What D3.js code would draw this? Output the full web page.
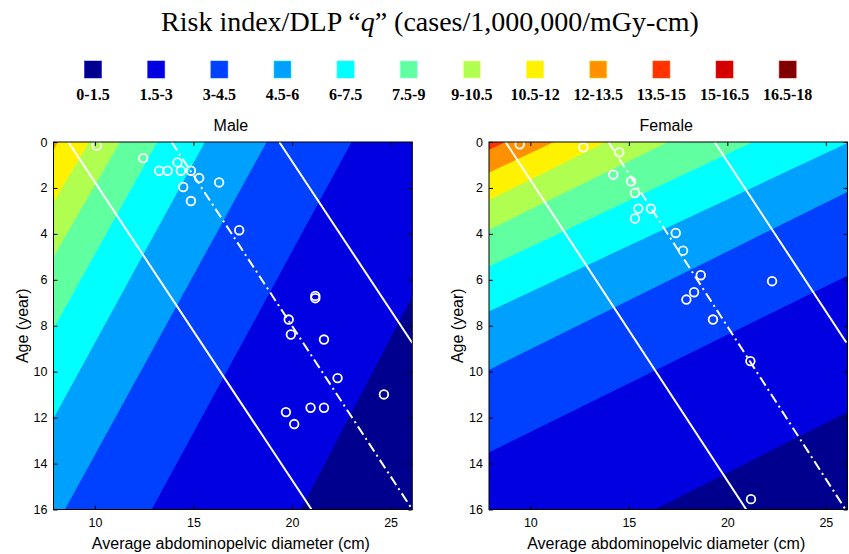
<!doctype html>
<html>
<head>
  <meta charset="utf-8">
  <title>Risk index/DLP q</title>
  <style>
    body { margin: 0; background: #fff; }
    .tick text { font-family: "Liberation Sans", Arial, sans-serif; font-size: 12.5px; fill: #000; }
    .tick line { stroke: #000; }
  </style>
</head>
<body>
<div class="chart"></div>
<script src="https://cdn.jsdelivr.net/npm/d3@7"></script>
<script>

// legend bands (12 bands of 1.5)
const bandLabels = ["0-1.5", "1.5-3", "3-4.5", "4.5-6", "6-7.5", "7.5-9",
                    "9-10.5", "10.5-12", "12-13.5", "13.5-15", "15-16.5", "16.5-18"];
const bandColors = ["#00008f", "#0000e0", "#0040ff", "#00a0ff", "#00ffff", "#60ffa0",
                    "#b0ff50", "#fff200", "#ff9000", "#ff3300", "#d40000", "#800000"];

const xTicks = [10, 15, 20, 25];
const yTicks = [0, 2, 4, 6, 8, 10, 12, 14, 16];

// contour boundaries, as [diameter, age] points (age increasing)
// each one is the lower edge of the level given in *Levels
const maleLevels = [1.5, 3, 4.5, 6, 7.5, 9, 10.5, 12];
const maleBounds = [
  [[26.07, 6.78], [20.45, 16]],
  [[23.02, 0], [12.88, 16]],
  [[18.71, 0], [8.48, 16]],
  [[15.58, 0], [7.92, 12.0]],
  [[13.17, 0], [7.92, 8.1]],
  [[11.27, 0], [7.92, 4.97]],
  [[9.7, 0], [7.92, 2.6]],
  [[8.12, 0], [7.92, 0.33]]
];

const femaleLevels = [1.5, 3, 4.5, 6, 7.5, 9, 10.5, 12, 13.5];
const femaleBounds = [
  [[26.04, 11.78], [16.32, 16]],
  [[26.04, 5.84], [7.94, 13.5]],
  [[26.04, 2.2], [7.94, 9.9]],
  [[26.2, 0], [7.94, 7.36]],
  [[21.29, 0], [7.94, 5.41]],
  [[16.99, 0], [7.94, 3.81]],
  [[13.85, 0], [7.94, 2.51]],
  [[11.2, 0], [7.94, 1.32]],
  [[8.74, 0], [7.94, 0.33]]
];

// white lines: fit (dash-dot) and the two limits (solid)
const maleFit = [[13.89, 0], [26.1, 16]];
const maleLow = [[8.65, 0], [20.99, 16]];
const maleHigh = [[19.35, 0], [26.1, 8.75]];
const femaleFit = [[13.96, 0], [26.0, 16]];
const femaleLow = [[8.74, 0], [20.96, 16]];
const femaleHigh = [[19.35, 0], [26.04, 8.73]];

// patients
const maleDiam = [10.09, 12.45, 13.26, 13.69, 14.19, 14.36, 14.87, 15.29, 16.3, 14.48, 14.87, 17.32,
                  21.18, 21.18, 19.83, 19.94, 21.62, 22.31, 24.66, 19.69, 20.94, 21.62, 20.11];
const maleAge = [0.16, 0.7, 1.25, 1.25, 0.89, 1.25, 1.25, 1.57, 1.76, 1.96, 2.57, 3.84,
                 6.7, 6.8, 7.73, 8.38, 8.6, 10.28, 10.99, 11.76, 11.57, 11.57, 12.28];
const femaleDiam = [9.46, 12.69, 14.51, 14.21, 15.11, 15.31, 15.48, 16.12, 15.31, 17.38, 17.75, 18.65,
                    18.31, 17.92, 22.27, 19.27, 21.17, 21.2];
const femaleAge = [0.1, 0.23, 0.45, 1.42, 1.71, 2.22, 2.9, 2.9, 3.33, 3.96, 4.73, 5.8,
                   6.54, 6.86, 6.06, 7.73, 9.54, 15.55];


var W = 849, H = 554;
var svg = d3.select(".chart").append("svg").attr("width", W).attr("height", H);

var serif = "'Liberation Serif', 'Times New Roman', serif";
var sans = "'Liberation Sans', Arial, sans-serif";

// title
var title = svg.append("text")
    .attr("x", 430).attr("y", 31)
    .attr("text-anchor", "middle")
    .style("font-family", serif).style("font-size", "28px");
title.append("tspan").text("Risk index/DLP \u201c");
title.append("tspan").style("font-style", "italic").text("q");
title.append("tspan").text("\u201d (cases/1,000,000/mGy-cm)");

// legend
var lx = d3.scaleLinear().domain([0, 11]).range([93, 787.7]);
var legend = svg.append("g").selectAll("g").data(bandLabels).join("g")
    .attr("transform", (d, i) => `translate(${lx(i)},0)`);
legend.append("rect")
    .attr("x", -8.5).attr("y", 61).attr("width", 17).attr("height", 17)
    .attr("fill", (d, i) => bandColors[i])
    .attr("stroke", (d, i) => d3.color(bandColors[i]).brighter(1.2))
    .attr("stroke-opacity", 0.5);
legend.append("text")
    .attr("y", 100).attr("text-anchor", "middle")
    .style("font-family", serif).style("font-size", "16px").style("font-weight", "bold")
    .text(d => d);


function extend(p, q, a) {
    // point on line p-q at age a
    var t = (a - p[1]) / (q[1] - p[1]);
    return [p[0] + t * (q[0] - p[0]), a];
}

function drawPanel(name, left, right, levels, bounds, fit, low, high, diam, age) {
    var x = d3.scaleLinear().domain([7.9, 26.1]).range([left, right]);
    var y = d3.scaleLinear().domain([0, 16]).range([142, 509.5]);
    var g = svg.append("g");

    g.append("clipPath").attr("id", "clip-" + name)
      .append("rect")
        .attr("x", x(7.9)).attr("y", y(0))
        .attr("width", x(26.1) - x(7.9)).attr("height", y(16) - y(0));

    var plot = g.append("g").attr("clip-path", `url(#clip-${name})`);

    plot.append("rect")
        .attr("x", x(7.9)).attr("y", y(0))
        .attr("width", x(26.1) - x(7.9)).attr("height", y(16) - y(0))
        .attr("fill", bandColors[0]);

    // region above each level = left of its boundary
    var line = d3.line().x(d => x(d[0])).y(d => y(d[1]));
    bounds.forEach(function(pts, i) {
        var n = pts.length;
        var poly = [extend(pts[0], pts[1], -3)]
            .concat(pts)
            .concat([extend(pts[n - 2], pts[n - 1], 19), [-200, 19], [-200, -3]]);
        plot.append("path")
            .attr("d", line(poly) + "Z")
            .attr("fill", bandColors[Math.round(levels[i] / 1.5)]);
    });

    [low, high].forEach(function(l) {
        plot.append("path").attr("d", line(l))
            .attr("stroke", "#fff").attr("stroke-width", 2).attr("fill", "none");
    });
    plot.append("path").attr("d", line(fit))
        .attr("stroke", "#fff").attr("stroke-width", 2).attr("fill", "none")
        .attr("stroke-dasharray", "10,4,2,4");

    plot.selectAll("circle.pt").data(diam).join("circle")
        .attr("class", "pt")
        .attr("cx", d => x(d))
        .attr("cy", (d, i) => y(age[i]))
        .attr("r", 4.3)
        .attr("fill", "none").attr("stroke", "#fff").attr("stroke-width", 1.8);

    // axes, matlab style ticks pointing in
    g.append("g").attr("transform", `translate(0,${y(16)})`)
        .call(d3.axisBottom(x).tickValues(xTicks).tickSizeInner(-4).tickSizeOuter(0).tickPadding(9))
        .call(a => a.select(".domain").remove());
    g.append("g").attr("transform", `translate(0,${y(0)})`)
        .call(d3.axisTop(x).tickValues(xTicks).tickSizeInner(-4).tickSizeOuter(0).tickFormat(""))
        .call(a => a.select(".domain").remove());
    g.append("g").attr("transform", `translate(${x(7.9)},0)`)
        .call(d3.axisLeft(y).tickValues(yTicks).tickSizeInner(-4).tickSizeOuter(0).tickPadding(6))
        .call(a => a.select(".domain").remove());
    g.append("g").attr("transform", `translate(${x(26.1)},0)`)
        .call(d3.axisRight(y).tickValues(yTicks).tickSizeInner(-4).tickSizeOuter(0).tickFormat(""))
        .call(a => a.select(".domain").remove());

    g.append("rect")
        .attr("x", x(7.9)).attr("y", y(0))
        .attr("width", x(26.1) - x(7.9)).attr("height", y(16) - y(0))
        .attr("fill", "none").attr("stroke", "#000");

    var cx = (x(7.9) + x(26.1)) / 2;
    g.append("text").attr("x", cx - 2).attr("y", 130.5).attr("text-anchor", "middle")
        .style("font-family", sans).style("font-size", "16px")
        .text(name === "male" ? "Male" : "Female");
    g.append("text").attr("x", cx - 2).attr("y", 549).attr("text-anchor", "middle")
        .style("font-family", sans).style("font-size", "16px")
        .text("Average abdominopelvic diameter (cm)");
    g.append("text")
        .attr("transform", `translate(${left - 26},${(y(0) + y(16)) / 2}) rotate(-90)`)
        .attr("text-anchor", "middle")
        .style("font-family", sans).style("font-size", "16px")
        .text("Age (year)");
}

drawPanel("male", 53.5, 412.3, maleLevels, maleBounds, maleFit, maleLow, maleHigh, maleDiam, maleAge);
drawPanel("female", 489, 847.5, femaleLevels, femaleBounds, femaleFit, femaleLow, femaleHigh, femaleDiam, femaleAge);

</script>
</body>
</html>
